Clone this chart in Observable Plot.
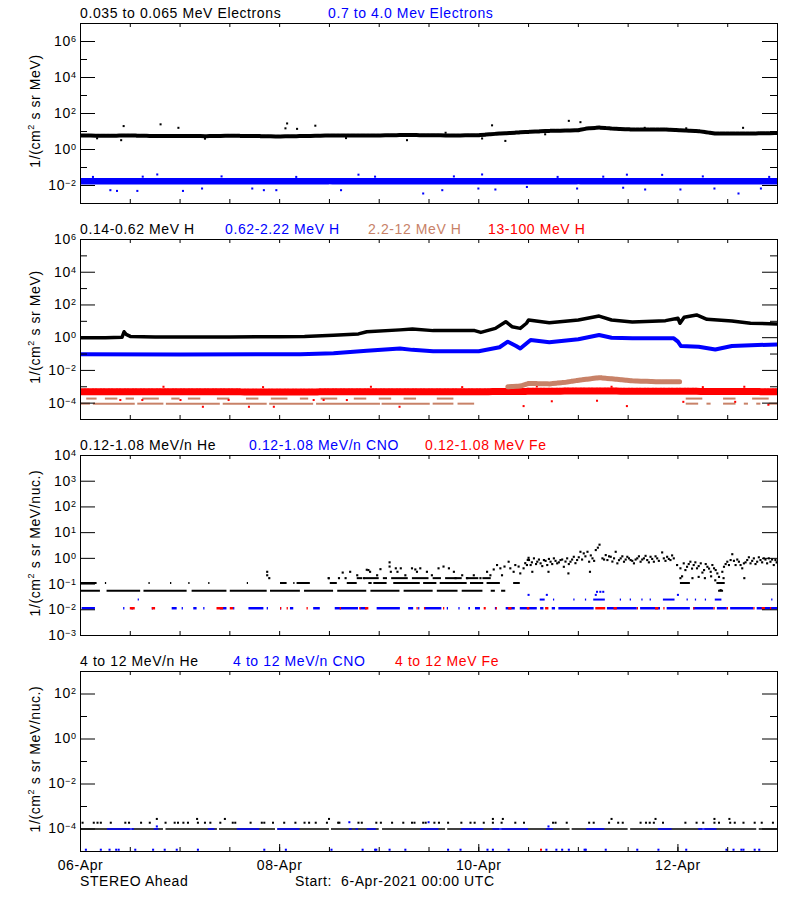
<!DOCTYPE html>
<html><head><meta charset="utf-8">
<script src="https://cdn.jsdelivr.net/npm/d3@7"></script>
<script src="https://cdn.jsdelivr.net/npm/@observablehq/plot@0.6"></script>
<style>
body{margin:0;background:#fff;}
#chart{position:relative;width:800px;height:900px;background:#fff;}
#chart svg{position:absolute;left:0;}
svg text{white-space:pre;}
</style></head><body><div id="chart"></div>
<script>
// ---------- DATA (hours since 6-Apr-2021 00:00 UTC, flux values) ----------
// Panel 1: electrons
const eLowHours = [0,6,12,18,24,30,36,42,48,54,60,66,72,78,84,90,96,101,108,113,120,122,125,128,133,141,149,153,161,168];
const eLowFlux  = [6.0,5.8,6.0,5.6,5.7,5.5,5.8,5.6,5.3,5.6,6.0,6.0,6.0,6.4,6.2,6.0,6.2,7.7,9.5,10.8,11.8,14.6,16.5,14.6,12.9,12.9,10.4,7.7,7.7,8.2];
const eLowOutHours = [9.8,10.4,19.3,23.6,49.4,49.8,52.2,56.6,78.7,96.8,99.2,102.4,117.7,120.5,159.7,4,30,64,88,112,136,146];
const eLowOutFlux  = [3.3,20,25,16,15,28,14,21,3.3,4.1,22,3.0,39,33,16,4.2,4.0,4.3,8.5,7.0,16,15];
const eHighHours = [0,12,24,36,48,60,72,84,96,108,120,132,144,156,168];
const eHighFlux  = [0.0175,0.0175,0.017,0.0175,0.017,0.0175,0.017,0.0175,0.0175,0.017,0.0175,0.0175,0.017,0.0175,0.0175];
const eHighOutHours = [7.2,8.8,13.7,18.5,24.7,29.3,41.4,44.2,47.2,62.8,67,82.6,87.2,95.9,96.8,100,107.6,119.7,130.8,131.7,136.1,140.2,144.6,152.8,158.6,164,3,15,34,52,71,90,115,126,150,166];
const eHighOutFlux  = [0.0055,0.005,0.005,0.041,0.005,0.0068,0.0068,0.0055,0.0055,0.0055,0.04,0.0036,0.0055,0.0068,0.041,0.006,0.0083,0.0068,0.0075,0.04,0.006,0.039,0.006,0.0068,0.0036,0.0068,0.03,0.031,0.032,0.03,0.031,0.032,0.03,0.031,0.032,0.03];

// Panel 2: protons
const hLowHours = [0,6,10,10.5,11,12,18,24,36,48,54,61,67,69,77,80,85,95,96.5,100,102.5,104,106,107.5,108,113,120,125,128,133,141,144,144.5,145.5,148.5,151,157,161.5,168];
const hLowFlux  = [1.0,1.0,1.05,2.3,1.6,1.2,1.1,1.1,1.1,1.15,1.2,1.4,1.7,2.3,3.0,3.4,2.7,2.7,2.1,3.7,9.5,4.7,3.7,7.6,12,8.3,12,21,12,9.1,11,15.4,7.6,17.7,24.5,13.3,10.5,7.6,6.9];
const hMidHours = [0,24,48,53,61,69,77,80,85,96,101,103,105,106,108.5,113,120,125,128,133,143,144,144.7,149,153,157,168];
const hMidFlux  = [0.096,0.095,0.098,0.096,0.11,0.16,0.22,0.18,0.15,0.15,0.26,0.57,0.31,0.22,0.72,0.52,0.8,1.47,1.0,0.91,0.91,0.57,0.31,0.28,0.19,0.31,0.39];
const hHighHours = [103,106,108,113,117,120.5,125,129,133,140,144.4];
const hHighFlux  = [1.0e-3,1.1e-3,1.6e-3,1.5e-3,1.9e-3,2.6e-3,3.6e-3,2.9e-3,2.3e-3,2.0e-3,2.0e-3];
const hHighBaseLevel = 9.3e-5;
const hHighBaseSegs = [[0,2.4],[3.1,13.2],[13.8,20.1],[20.7,33.7],[34.4,45],[45.6,56.2],[56.9,72.3],[72.7,84.3],[85,90],[91,95],[146,149],[151,152],[155,158],[160,161],[163,164],[166,168]];
const hHighMidLevel = 1.9e-4;
const hHighMidSegs = [[1.5,4],[6,9],[11,13],[15,19],[22,24],[26,29],[33,36],[40,43],[46,50],[53,55],[58,62],[66,69],[72,75],[78,81],[86,90],[146,150],[155,158],[162,166]];
const hTopHours = [0,24,48,72,96,120,144,168];
const hTopFlux  = [5e-4,5e-4,4.8e-4,5e-4,5e-4,5.5e-4,5.3e-4,5e-4];
const hTopOutHours = [9.6,14.9,24.1,29.5,35.7,40.6,46.6,56.2,58.6,64.2,76.9,106.8,113.6,124.5,131.7,145.3,157.8,165.8,20,44,70,92,110,128,150,160];
const hTopOutFlux  = [1.55e-4,1.55e-4,1.55e-4,6e-5,1.55e-4,6e-5,6e-5,1.55e-4,1.55e-4,1.55e-4,6e-5,6.6e-5,1.3e-4,1.4e-4,6.6e-5,1.2e-4,1.2e-4,8e-5,1e-3,9.5e-4,1e-3,9.5e-4,1.05e-3,1e-3,9.5e-4,1e-3];

// Panel 3: 0.12-1.08 MeV/n heavy ions
const heRow1Level = 0.055;
const heRow1Segs = [[0,4.8],[6.4,14.5],[15.3,25.7],[26.9,35.3],[36.1,45],[45.8,53],[54,61],[62,69],[70,77],[78,85],[86,91],[92,97],[99,100],[101.5,102.5],[153.8,155]];
const heRow2Level = 0.11;
const heRow2Segs = [[0,4],[6,6],[16.5,16.5],[21.7,21.7],[26.1,26.1],[30.9,30.9],[40.2,40.2],[48.2,49.8],[51.4,51.4],[52.2,55.4],[60.2,61.9],[64.3,66.7],[69.5,70.3],[70.7,73.9],[75.5,81.9],[82.7,85.9],[86.7,93.2],[94,97.2],[98,101.2],[104.4,106],[144.6,147],[153.4,155.4]];
const heRow3Level = 0.17;
const heRow3Segs = [[59.8,60.2],[66.7,68],[68.5,72],[73,74],[75,79],[80,84],[85,87],[88,92],[93,96],[97,99]];
const heCloud = [
 [45,0.3],[45,0.22],[45.5,0.17],[59.8,0.17],[62.3,0.17],[63.2,0.28],[63.9,0.17],[65,0.3],[66.7,0.22],[68.3,0.17],[69,0.36],[69.4,0.35],[69.8,0.3],[71.5,0.22],[72.3,0.38],[74.5,0.7],[74.5,0.48],[74.8,0.3],[76,0.41],[76.4,0.3],[77.2,0.41],[78.3,0.22],[79.9,0.41],[80.7,0.37],[81.1,0.3],[81.9,0.41],[83.5,0.3],[84.7,0.22],[86.3,0.41],[87.5,0.48],[88.8,0.41],[90,0.3],[90.4,0.17],[92,0.22],[93.2,0.17],[94.8,0.22],[96.4,0.17],[98,0.3],[98.8,0.22],[99.6,0.37],[100.4,0.55],[101.2,0.41],[101.6,0.22],[102.2,0.48],[103.2,0.74],[103.6,0.41],[104.4,0.3],[104.8,0.55],[105.6,0.48],[106,0.26],[106.8,0.41],[107.2,0.65],[107.6,0.55],[107.8,0.87],[108,1.05],
 [108.1,0.86],[108.5,0.55],[109.3,1.0],[110.1,0.74],[110.9,0.64],[111.7,0.86],[112.5,0.55],[113.3,0.74],[114.1,1.0],[114.9,0.64],[115.7,0.86],[116.5,0.47],[117.3,1.0],[118.1,0.74],[118.9,1.15],[119.7,0.86],[120.5,1.8],[121.3,1.56],[122.2,1.8],[122.6,0.74],[123.4,1.0],[124.2,2.1],[124.7,2.6],[125.1,3.4],[125.8,1.0],[126.6,1.34],[127,0.86],[127.8,1.15],[128.6,1.0],[129,1.8],[129.4,0.64],[130.2,1.0],[131,0.74],[131.8,1.15],[132.6,0.86],[133.4,0.64],[134.2,1.0],[135,0.74],[135.8,1.0],[136.6,0.86],[137.4,1.15],[138.2,0.74],[139,1.0],[140.2,1.7],[140.6,1.0],[141.4,1.15],[142.2,0.86],[143,1.0],[143.8,0.55],[144.6,0.41],[144.6,0.17],[145.4,0.64],[146.2,0.47],[147,0.74],[147.8,0.55],[148.6,0.41],[149.5,0.64],[150.3,0.35],[151.1,0.47],[151.9,0.3],[152.7,0.41],[153.5,0.26],[153.9,0.19],[154.3,0.058],[155.1,0.47],[155.9,0.74],[156.7,0.86],[157.1,1.45],[157.9,0.55],[158.7,0.74],[159.5,0.41],[159.9,0.64],[160.7,0.86],[161.5,0.64],[162.3,1.0],[163.1,0.74],[163.9,0.86],[164.7,1.0],[165.5,0.64],[166.3,0.74],[167.1,0.55],[167.5,0.86],
 [108.8,0.7],[109.8,0.6],[110.5,0.9],[111.3,0.5],[112.1,0.8],[112.9,0.95],[113.7,0.6],[114.5,0.8],[115.3,0.7],[116.1,0.9],[116.9,0.75],[117.7,0.6],[118.5,0.9],[119.3,0.65],[120.1,1.1],[120.9,0.9],[121.7,1.2],[123,1.3],[123.8,0.8],[126.2,0.9],[127.4,1.2],[128.2,0.75],[129.8,0.85],[130.6,1.2],[131.4,0.9],[132.2,1.0],[133,0.8],[133.8,0.9],[134.6,1.2],[135.4,0.9],[136.2,1.25],[137,0.7],[137.8,0.95],[138.6,1.2],[139.4,0.8],[141,0.8],[141.8,0.95],[142.6,1.3],[145.8,0.35],[146.6,0.6],[147.4,0.4],[148.2,0.7],[149,0.5],[149.9,0.28],[150.7,0.6],[151.5,0.4],[152.3,0.55],[153.1,0.35],[154.7,0.3],[155.5,0.6],[156.3,0.55],[157.5,0.8],[158.3,0.9],[159.1,0.55],[160.3,0.7],[161.1,1.1],[161.9,0.8],[162.7,0.6],[163.5,1.1],[164.3,0.7],[165.1,0.9],[165.9,1.0],[166.7,0.9],[167.8,0.7],
 [145,0.2],[147.5,0.17],[149,0.19],[150.5,0.17],[152,0.2],[153,0.14],[155,0.17],[160,0.17],[108.9,0.3],[112.8,0.3],[117.6,0.26],[122.8,0.3]
];
const cnoRowLevel = 0.0115;
const cnoRowSegs = [[0.4,3.6],[10.4,10.4],[12.4,12.8],[17.3,17.3],[22.1,23.3],[24.5,24.5],[27.3,28.1],[29.7,29.7],[33.7,35.3],[36.9,36.9],[40.6,44.2],[45,45],[48.2,48.2],[50.6,51.4],[56.2,57.8],[61.4,67],[67.5,69.1],[71.5,77.1],[79.1,80.3],[81.5,81.5],[83.1,87.1],[88.4,88.4],[91.2,91.2],[93.6,94],[95.2,96.4],[100,100],[102.6,104.8],[106,110.1],[110.9,111.7],[113.7,114.5],[115.3,123.8],[127,134.2],[135,139.8],[141.4,147],[147.8,152.7],[153.5,155.9],[156.7,162.3],[163.1,168]];
const cnoRow2Level = 0.025;
const cnoRow2Segs = [[13.9,13.9],[110.8,112],[114,114],[118.9,118.9],[121.7,121.7],[123.7,126.5],[130.1,130.1],[132.5,132.5],[135.3,135.3],[137.3,137.3],[140.5,143.3],[146.2,146.2],[148.2,148.2],[150.6,150.6],[153,154.6],[166.6,166.6]];
const cnoUpper = [[108,0.038],[112.4,0.038],[124.2,0.038],[124.5,0.05],[125.3,0.05],[126,0.05],[144,0.038]];
const feRowSegs = [[12,13.2],[17.3,18.1],[32.9,34.5],[36.1,36.9],[48.2,48.2],[49.8,49.8],[54.6,54.6],[62.6,62.6],[67.3,67.3],[68.7,69.5],[81.1,81.1],[82.9,82.9],[87.5,87.5],[97.3,97.8],[100.2,100.2],[103.2,104],[107.7,108.3],[112.1,112.9],[124.2,126.6],[128.6,129.4],[134.2,134.2],[138.6,139.4],[140.6,140.6],[147.8,147.8],[152.7,152.7],[155.9,155.9],[162.3,162.3],[164.3,165.1],[166.3,166.3]];

// Panel 4: 4-12 MeV/n heavy ions
const he4BaseLevel = 1e-4;
const he4BaseSegs = [[0,12],[12.5,20],[20.6,33],[33.5,47],[47.6,60],[60.5,72],[72.8,88],[88.5,101],[101.6,118],[118.5,132],[132.6,150],[150.5,163],[163.6,168]];
const he4MidLevel = 1.9e-4;
const he4MidHours = [0.5,3.2,4.1,4.9,7.3,10.8,11.7,14.6,16.7,20.5,22.7,23.5,24.8,25.9,28.3,30,31.3,33.7,36.7,37.3,41,43.7,44.3,46.4,49.1,51.8,54,55.1,56.7,59.4,62.1,62.4,67,67.8,71.3,72.4,75.1,77.8,79.9,80.5,82.6,83.2,85.3,86.4,88.6,91.8,94,95,97.2,99.4,101.5,104.8,106.9,113.9,114.5,117.2,122.6,123.7,127.4,129.6,130.7,135,136.3,137.2,138.2,140.4,145.8,148.5,150.1,152.8,153.9,156.6,157.7,159.8,162.5,164.2,166.9];
const he4HighLevel = 2.8e-4;
const he4HighHours = [18.4,28.1,34.8,59.9,99.4,101.8,128,138.6,152.8,156.4];
const cno4BaseSegs = [[6.5,13],[17.8,18.9],[30.8,32.4],[37.8,43.2],[47.5,52.9],[64.8,65.5],[66.4,67],[69.1,71.3],[82.1,86.4],[91.8,97.2],[99.4,108],[112.3,114],[122,126.4],[139.3,142.6],[149,153.4]];
const cno4Upper = [[18.4,1.3e-4],[64.8,2e-4],[83.9,2e-4],[112.8,1.3e-4]];
const cno4LowLevel = 1.2e-5;
const cno4LowHours = [1.3,4.9,7,8.6,9.2,13.2,17.5,20.3,23.2,28.3,44.3,49.5,60.5,68,71,71.3,74.5,78.3,88.6,91.6,98.1,99.4,103.2,112.3,114.7,116.1,117.7,121.5,121.8,126.6,134.2,139.3,146,155.7,157.4,159.3,159.8,162.5,163.6];
const fe4LowHours = [111];

// ticks and labels
const xTickHours = [12,24,36,48,60,72,84,96,108,120,132,144,156];
const xLabelHours = [0,48,96,144];
const colors = {black:"#000000", blue:"#0000ff", brown:"rgb(200,130,104)", red:"#ff0000"};

// ---------- LAYOUT ----------
const W = 800, ML = 80, MR = 23, MT = 23, FH = 180, FW = W - ML - MR;
const t0 = Date.UTC(2021, 3, 6);
const T = h => new Date(t0 + h * 3600000);
const FONT = "'Liberation Sans', Arial, Helvetica, sans-serif";
const NS = "http://www.w3.org/2000/svg";

const zip = (hs, vs) => hs.map((h, i) => [h, vs[i]]);
const dots = (pairs, color, r = 1.15) => Plot.dot(pairs, {x: d => T(d[0]), y: d => d[1], fill: color, symbol: "square", r, clip: true});
const band = (hs, vs, color, w, dash) => Plot.line(zip(hs, vs), {x: d => T(d[0]), y: d => d[1], stroke: color, strokeWidth: w, strokeLinejoin: "round", strokeDasharray: dash, clip: true});
const row = (segs, level, color, w = 2) => Plot.ruleY(segs, {y: () => level, x1: d => T(d[0]), x2: d => T(Math.max(d[1], d[0] + 0.3)), stroke: color, strokeWidth: w, clip: true});

function panel(k, cfg) {
  const last = k === 3;
  const height = last ? 900 - 216 * k : 216;
  const mb = height - MT - FH;
  const marks = [
    ...cfg.marks,
    Plot.frame({stroke: "black"}),
    Plot.tickX(xTickHours, {x: T, insetTop: FH - 4, stroke: "black"}),
    Plot.tickX(xTickHours, {x: T, insetBottom: FH - 4, stroke: "black"}),
    Plot.tickY(cfg.major, {y: d => d, insetRight: FW - 15, stroke: "black"}),
    Plot.tickY(cfg.major, {y: d => d, insetLeft: FW - 15, stroke: "black"}),
    Plot.tickY(cfg.minor, {y: d => d, insetRight: FW - 7, stroke: "black"}),
    Plot.tickY(cfg.minor, {y: d => d, insetLeft: FW - 7, stroke: "black"}),
    Plot.axisY({ticks: cfg.major, tickSize: 0, tickPadding: 4, label: null, tickFormat: d => "10^" + Math.round(Math.log10(d))})
  ];
  if (last) {
    marks.push(Plot.tickX(xLabelHours.slice(1), {x: T, insetTop: FH - 7, stroke: "black"}));
    marks.push(Plot.axisX({ticks: xLabelHours.map(T), tickSize: 0, tickPadding: 9, label: null, tickFormat: d3.utcFormat("%d-%b")}));
  }
  const svg = Plot.plot({
    width: W, height, marginLeft: ML, marginRight: MR, marginTop: MT, marginBottom: mb,
    x: {type: "utc", domain: [T(0), T(168)], ...(last ? {} : {axis: null})},
    y: {type: "log", domain: cfg.domain},
    style: {fontFamily: FONT, fontSize: "14px", letterSpacing: "0.6px", color: "black", background: "white", overflow: "visible"},
    marks
  });
  svg.style.top = (216 * k) + "px";
  svg.querySelectorAll('g[aria-label="y-axis tick label"] text').forEach(t => {
    const parts = t.textContent.split("^");
    t.textContent = parts[0];
    const ts = document.createElementNS(NS, "tspan");
    ts.setAttribute("dy", "-4");
    ts.setAttribute("font-size", "9");
    ts.textContent = parts[1].replace("-", "\u2212");
    t.appendChild(ts);
  });
  const s = d3.select(svg);
  cfg.titles.forEach(([txt, color, x]) => {
    s.append("text").attr("x", x).attr("y", 18).attr("fill", color).attr("text-anchor", "start").text(txt);
  });
  const yl = s.append("text").attr("transform", `translate(39.5,${MT + FH / 2 - 2}) rotate(-90)`).attr("text-anchor", "middle").attr("fill", "black");
  yl.append("tspan").text("1/(cm");
  yl.append("tspan").attr("dy", -6).attr("font-size", 9).text("2");
  yl.append("tspan").attr("dy", 6).text(cfg.yTail);
  if (last) {
    s.append("text").attr("x", 80).attr("y", 237.5).attr("text-anchor", "start").attr("fill", "black").text("STEREO Ahead");
    s.append("text").attr("x", 295).attr("y", 237.5).attr("text-anchor", "start").attr("fill", "black").text("Start:  6-Apr-2021 00:00 UTC");
  }
  return svg;
}

const chart = document.getElementById("chart");

chart.appendChild(panel(0, {
  domain: [1e-3, 1e7], major: [1e6, 1e4, 1e2, 1, 1e-2], minor: [1e5, 1e3, 10, 0.1],
  yTail: " s sr MeV)",
  titles: [["0.035 to 0.065 MeV Electrons", colors.black, 80], ["0.7 to 4.0 Mev Electrons", colors.blue, 328]],
  marks: [
    band(eHighHours, eHighFlux, colors.blue, 6.5, "4 1 2 1"),
    dots(zip(eHighOutHours, eHighOutFlux), colors.blue),
    band(eLowHours, eLowFlux, colors.black, 4, "5 1 3 1"),
    dots(zip(eLowOutHours, eLowOutFlux), colors.black)
  ]
}));

chart.appendChild(panel(1, {
  domain: [1e-5, 1e6], major: [1e6, 1e4, 1e2, 1, 1e-2, 1e-4], minor: [1e5, 1e3, 10, 0.1, 1e-3],
  yTail: " s sr MeV)",
  titles: [["0.14-0.62 MeV H", colors.black, 80], ["0.62-2.22 MeV H", colors.blue, 225], ["2.2-12 MeV H", colors.brown, 368], ["13-100 MeV H", colors.red, 488]],
  marks: [
    row(hHighBaseSegs, hHighBaseLevel, colors.brown, 2),
    row(hHighMidSegs, hHighMidLevel, colors.brown, 2),
    band(hTopHours, hTopFlux, colors.red, 7, "4 1 2 1"),
    dots(zip(hTopOutHours, hTopOutFlux), colors.red),
    band(hHighHours, hHighFlux, colors.brown, 5, "4 1"),
    band(hMidHours, hMidFlux, colors.blue, 4),
    band(hLowHours, hLowFlux, colors.black, 3.5)
  ]
}));

chart.appendChild(panel(2, {
  domain: [1e-3, 1e4], major: [1e4, 1e3, 1e2, 10, 1, 0.1, 0.01, 1e-3], minor: [],
  yTail: " s sr MeV/nuc.)",
  titles: [["0.12-1.08 MeV/n He", colors.black, 80], ["0.12-1.08 MeV/n CNO", colors.blue, 249], ["0.12-1.08 MeV Fe", colors.red, 425]],
  marks: [
    row(heRow1Segs, heRow1Level, colors.black, 2),
    row(heRow2Segs, heRow2Level, colors.black, 2),
    row(heRow3Segs, heRow3Level, colors.black, 2),
    dots(heCloud, colors.black, 1.2),
    row(cnoRowSegs, cnoRowLevel, colors.blue, 2.5),
    row(cnoRow2Segs, cnoRow2Level, colors.blue, 2),
    dots(cnoUpper, colors.blue),
    row(feRowSegs, cnoRowLevel, colors.red, 2.5)
  ]
}));

chart.appendChild(panel(3, {
  domain: [1e-5, 1e3], major: [1e2, 1, 1e-2, 1e-4], minor: [10, 0.1, 1e-3],
  yTail: " s sr MeV/nuc.)",
  titles: [["4 to 12 MeV/n He", colors.black, 80], ["4 to 12 MeV/n CNO", colors.blue, 233], ["4 to 12 MeV Fe", colors.red, 395]],
  marks: [
    row(he4BaseSegs, he4BaseLevel, colors.black, 1.5),
    dots(he4MidHours.map(h => [h, he4MidLevel]), colors.black),
    dots(he4HighHours.map(h => [h, he4HighLevel]), colors.black),
    row(cno4BaseSegs, he4BaseLevel, colors.blue, 1.5),
    dots(cno4Upper, colors.blue),
    dots(cno4LowHours.map(h => [h, cno4LowLevel]), colors.blue),
    dots(fe4LowHours.map(h => [h, cno4LowLevel]), colors.red)
  ]
}));
</script></body></html>
